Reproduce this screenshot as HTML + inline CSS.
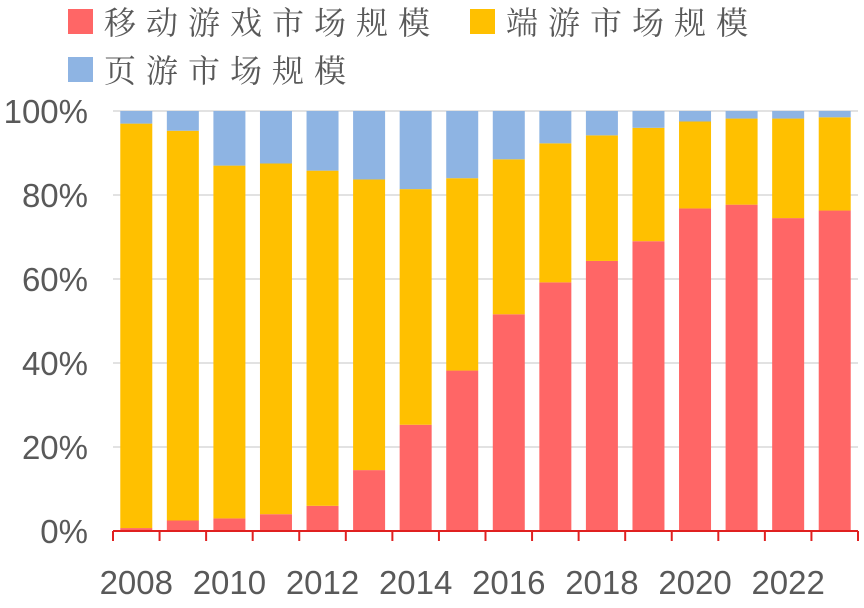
<!DOCTYPE html>
<html><head><meta charset="utf-8"><style>
body{margin:0;background:#fff;width:864px;height:603px;overflow:hidden}
svg text{font-family:"Liberation Sans","Noto Sans CJK SC",sans-serif;fill:#595959}
svg text.lg{font-family:"Liberation Serif","Noto Serif CJK SC",serif}
</style></head><body>
<svg id="chart" width="864" height="603">
<g>
<rect x="68" y="9" width="25" height="25" fill="#FF6666"/>
<text class="lg" x="104" y="34" font-size="32" letter-spacing="10">移动游戏市场规模</text>
<rect x="470" y="9" width="25" height="25" fill="#FFC000"/>
<text class="lg" x="506" y="34" font-size="32" letter-spacing="10">端游市场规模</text>
<rect x="68" y="57" width="25" height="25" fill="#8EB4E3"/>
<text class="lg" x="104" y="82" font-size="32" letter-spacing="10">页游市场规模</text>
</g>
</svg>
<script>
const years=["2008","2009","2010","2011","2012","2013","2014","2015","2016","2017","2018","2019","2020","2021","2022","2023"];
const mobile=[0.7,2.5,3,4,6,14.5,25.3,38.2,51.6,59.2,64.3,69,76.8,77.7,74.5,76.3];
const pc=[96.3,92.8,84,83.5,79.8,69.2,56.1,45.8,36.9,33.1,29.9,27,20.7,20.5,23.7,22.2];
const web=[3,4.7,13,12.5,14.2,16.3,18.6,16,11.5,7.7,5.8,4,2.5,1.8,1.8,1.5];
const yTicks=[0,20,40,60,80,100];
const ns="http://www.w3.org/2000/svg",svg=document.getElementById("chart");
const x0=113,x1=858,y0=531,y1=111,band=(x1-x0)/years.length,bw=32;
const y=v=>y0-(v/100)*(y0-y1);
function mk(t,a,p){const e=document.createElementNS(ns,t);for(const k in a)e.setAttribute(k,a[k]);(p||svg).appendChild(e);return e;}
yTicks.forEach(t=>{
 if(t>0){const g=mk("line",{x1:x0,x2:x1,y1:y(t),y2:y(t),stroke:"#D9D9D9","stroke-width":1.5});
 
 }
 const l=mk("text",{x:88,y:y(t)+12,"font-size":33,"text-anchor":"end"});l.textContent=t+"%";
 
 
});
years.forEach((yr,i)=>{
 const cx=x0+band*(i+0.5);let base=0;
 [[mobile[i],"#FF6666"],[pc[i],"#FFC000"],[web[i],"#8EB4E3"]].forEach(([v,c],j)=>{
  const r=mk("rect",{x:cx-bw/2,y:y(base+v),width:bw,height:y(base)-y(base+v),fill:c});
  
  
  base+=v;
 });
 if(i%2===0){const t=mk("text",{x:cx,y:594,"font-size":33,"text-anchor":"middle"});t.textContent=yr;
 
 }
});
const ax=mk("line",{x1:x0,x2:x1,y1:y0,y2:y0,stroke:"#E02020","stroke-width":2});


for(let i=0;i<=years.length;i++){const tk=mk("line",{x1:x0+band*i,x2:x0+band*i,y1:y0,y2:y0+10,stroke:"#E02020","stroke-width":2});
 
 }
</script>
</body></html>
